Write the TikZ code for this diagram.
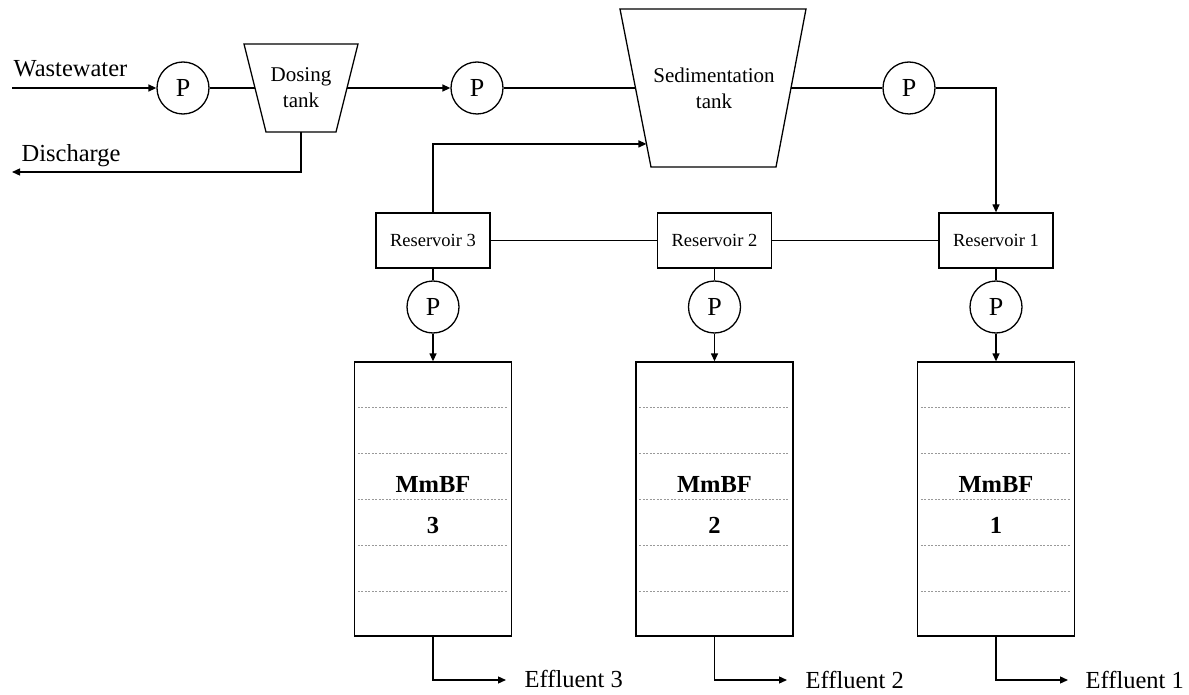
\documentclass[tikz,border=0pt]{standalone}
\usepackage{fontspec}
\setmainfont{Liberation Serif}
\usetikzlibrary{arrows.meta,calc}
\begin{document}
\begin{tikzpicture}[x=1pt,y=-1pt,line width=1.3pt,
  pump/.style={circle,draw,minimum size=52pt,inner sep=0pt,font=\fontsize{26}{26}\selectfont},
  resbox/.style={draw,rectangle,minimum width=114pt,minimum height=55pt,inner sep=0pt,font=\fontsize{18.5}{20}\selectfont},
  filt/.style={draw,rectangle,minimum width=157pt,minimum height=274pt,inner sep=0pt},
  lbl/.style={font=\fontsize{24.5}{26}\selectfont,inner sep=0pt},
  tanklbl/.style={font=\fontsize{21}{26}\selectfont,inner sep=0pt,align=center},
  filtlbl/.style={font=\fontsize{24.5}{26}\selectfont\bfseries,inner sep=0pt},
  flow/.style={-{Triangle[length=8pt,width=7pt]}},
  sepline/.style={draw=black!40,dash pattern=on 2pt off 1.5pt,line width=0.7pt}]
\useasboundingbox (0,0) rectangle (1189,695);

% pumps on the main line
\node[pump] (p1) at (183,88) {P};
\node[pump] (p2) at (477,88) {P};
\node[pump] (p3) at (909,88) {P};

% dosing tank
\coordinate (d1) at (244,44);
\coordinate (d2) at (358,44);
\coordinate (d3) at (336,132);
\coordinate (d4) at (266,132);
\draw (d1) -- (d2) -- (d3) -- (d4) -- cycle;
\node[tanklbl] (dosing) at (301,88) {Dosing\\tank};
\coordinate (dL) at ($(d1)!0.5!(d4)$);
\coordinate (dR) at ($(d2)!0.5!(d3)$);
\coordinate (dB) at (301,132);

% sedimentation tank
\coordinate (s1) at (620,9);
\coordinate (s2) at (806,9);
\coordinate (s3) at (776,167);
\coordinate (s4) at (651,167);
\draw (s1) -- (s2) -- (s3) -- (s4) -- cycle;
\node[tanklbl] (sed) at (714,88) {Sedimentation\\tank};
\coordinate (sL) at ($(s1)!0.5!(s4)$);
\coordinate (sL2) at ($(s1)!0.854!(s4)$);
\coordinate (sR) at ($(s2)!0.5!(s3)$);

% reservoirs
\node[resbox] (r3) at (433,240.5) {Reservoir 3};
\node[resbox] (r2) at (714.5,240.5) {Reservoir 2};
\node[resbox] (r1) at (996,240.5) {Reservoir 1};

% pumps under reservoirs
\node[pump] (q3) at (433,307) {P};
\node[pump] (q2) at (714.5,307) {P};
\node[pump] (q1) at (996,307) {P};

% filters
\node[filt] (f3) at (433,499) {};
\node[filt] (f2) at (714.5,499) {};
\node[filt] (f1) at (996,499) {};
\foreach \f in {f1,f2,f3}{
  \foreach \yy in {46,92,138,184,230}{
    \draw[sepline] ($(\f.north west)+(4,\yy)$) -- ($(\f.north east)+(-4,\yy)$);
  }
}
\node[filtlbl,anchor=base] (m3) at (433,492) {MmBF};
\node[filtlbl,anchor=base] (n3) at (433,533) {3};
\node[filtlbl,anchor=base] (m2) at (714.5,492) {MmBF};
\node[filtlbl,anchor=base] (n2) at (714.5,533) {2};
\node[filtlbl,anchor=base] (m1) at (996,492) {MmBF};
\node[filtlbl,anchor=base] (n1) at (996,533) {1};

% labels
\node[lbl,anchor=base west] (ww) at (13,77) {Wastewater};
\node[lbl,anchor=base west] (dis) at (21,162) {Discharge};
\coordinate (win) at (12,88);
\coordinate (dout) at (12,172);
\coordinate (dcorner) at (301,172);

\node[lbl,anchor=west] (e3) at (524,679) {Effluent 3};
\node[lbl,anchor=west] (e2) at (805,680) {Effluent 2};
\node[lbl,anchor=west] (e1) at (1085,680) {Effluent 1};
\coordinate (e3a) at (506,680);
\coordinate (e2a) at (787,680);
\coordinate (e1a) at (1068,680);

% connectors
\draw[flow] (win) -- (p1.west);
\draw (p1.east) -- (dL);
\draw[flow] (dR) -- (p2.west);
\draw (p2.east) -- (sL);
\draw (sR) -- (p3.west);
\draw[flow] (p3.east) -| (r1.north);
\draw[flow] (dB) -- (dcorner) -- (dout);
\draw[flow] (r3.north) |- (sL2);
\draw (r1.west) -- (r2.east);
\draw (r2.west) -- (r3.east);
\foreach \i in {1,2,3}{
  \draw (r\i.south) -- (q\i.north);
  \draw[flow] (q\i.south) -- (f\i.north);
}
\draw[flow] (f3.south) |- (e3a);
\draw[flow] (f2.south) |- (e2a);
\draw[flow] (f1.south) |- (e1a);
\end{tikzpicture}
\end{document}
